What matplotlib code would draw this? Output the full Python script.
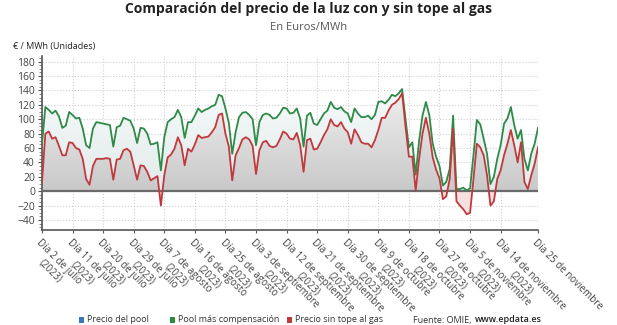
import numpy as np
import matplotlib
matplotlib.use('Agg')
import matplotlib.pyplot as plt
from matplotlib.colors import LinearSegmentedColormap
from matplotlib.patches import Rectangle

plt.rcParams['font.family'] = ['Open Sans', 'DejaVu Sans']

# daily values, 2 jul 2023 - 25 nov 2023 (EUR/MWh)
pool_comp = [65, 117, 113, 108, 112, 104, 88, 91, 110, 106, 101, 102, 87, 64, 60, 87, 96, 95, 94, 93,
             92, 62, 89, 91, 102, 100, 98, 87, 67, 88, 87, 80, 65, 66, 68, 29, 75, 96, 100, 103,
             113, 103, 74, 96, 96, 105, 115, 110, 113, 115, 118, 120, 134, 132, 115, 95, 52, 82, 103, 109,
             110, 106, 100, 64, 96, 106, 108, 106, 101, 102, 108, 116, 115, 108, 109, 115, 101, 62, 105, 109,
             94, 92, 100, 108, 112, 124, 116, 114, 117, 111, 108, 96, 115, 108, 103, 103, 105, 100, 106, 124,
             125, 122, 127, 134, 132, 136, 142, 100, 61, 68, 23, 70, 105, 124, 106, 66, 48, 35, 8, 13,
             31, 105, 3, 3, 5, 1, 4, 50, 99, 93, 73, 52, 10, 20, 45, 64, 94, 101, 117, 92,
             73, 85, 45, 29, 52, 66, 88]
sin_tope = [12, 80, 83, 73, 75, 63, 50, 50, 68, 67, 60, 58, 45, 17, 9, 35, 45, 45, 45, 46,
            45, 16, 44, 45, 57, 59, 55, 36, 16, 36, 35, 27, 15, 18, 21, -20, 22, 47, 51, 59,
            75, 64, 36, 59, 55, 65, 78, 74, 75, 76, 82, 89, 106, 108, 80, 62, 15, 50, 60, 72,
            75, 72, 63, 24, 57, 68, 70, 63, 61, 63, 72, 83, 80, 73, 72, 81, 64, 27, 71, 73,
            58, 59, 68, 78, 86, 100, 92, 90, 96, 87, 82, 66, 86, 78, 68, 66, 66, 61, 71, 85,
            102, 102, 112, 120, 123, 128, 136, 90, 48, 48, 1, 45, 80, 102, 80, 47, 30, 18, -11, -7,
            17, 87, -14, -20, -25, -32, -30, 17, 66, 61, 50, 22, -20, -14, 17, 29, 50, 66, 85, 64,
            40, 68, 13, 3, 22, 38, 61]

tick_pos = [0, 9, 18, 27, 36, 45, 54, 63, 72, 81, 90, 99, 108, 117, 126, 135, 146]
tick_labels = ['Día 2 de julio\n(2023)', 'Día 11 de julio\n(2023)', 'Día 20 de julio\n(2023)',
               'Día 29 de julio\n(2023)', 'Día 7 de agosto\n(2023)', 'Día 16 de agosto\n(2023)',
               'Día 25 de agosto\n(2023)', 'Día 3 de septiembre\n(2023)', 'Día 12 de septiembre\n(2023)',
               'Día 21 de septiembre\n(2023)', 'Día 30 de septiembre\n(2023)', 'Día 9 de octubre\n(2023)',
               'Día 18 de octubre\n(2023)', 'Día 27 de octubre\n(2023)', 'Día 5 de noviembre\n(2023)',
               'Día 14 de noviembre\n(2023)', 'Día 25 de noviembre']

G = np.array(pool_comp, dtype=float)
R = np.array(sin_tope, dtype=float)
x = np.arange(len(G))

fig = plt.figure(figsize=(6.17, 3.25), dpi=100)
ax = fig.add_axes([0.068, 0.292, 0.804, 0.536])

# gray gradient under the red line
poly = ax.fill_between(x, 0, np.clip(R, 0, None), facecolor='none', edgecolor='none')
cm_gray = LinearSegmentedColormap.from_list('g', ['#c9c9c9', '#f0f0f0'])
grad = np.linspace(0, 1, 256).reshape(-1, 1)
im = ax.imshow(grad, cmap=cm_gray, extent=[0, x[-1], 0, 145], aspect='auto', origin='lower', zorder=1)
im.set_clip_path(poly.get_paths()[0], transform=ax.transData)

# light tint between red and green
poly2 = ax.fill_between(x, R, G, facecolor='none', edgecolor='none')
cm_tint = LinearSegmentedColormap.from_list('t', ['#dde7e7', '#f6f9f9'])
im2 = ax.imshow(grad, cmap=cm_tint, extent=[0, x[-1], -40, 145], aspect='auto', origin='lower', zorder=1)
im2.set_clip_path(poly2.get_paths()[0], transform=ax.transData)

ax.fill_between(x, R, 0, where=R < 0, interpolate=True, facecolor='#f6dfdf', edgecolor='none', zorder=1.5)

ax.plot(x, G, color='#2e8a47', lw=1.3, zorder=4)
ax.plot(x, R, color='#c0393d', lw=1.3, zorder=4)
ax.axhline(0, color='#6a6a6a', lw=1.6, zorder=3)

ax.set_xlim(0, x[-1])
ax.set_ylim(-54, 188)
ax.set_yticks(np.arange(-40, 181, 20))
ax.set_yticks(np.arange(-50, 186, 5), minor=True)
ax.set_xticks(tick_pos)
ax.set_xticklabels(tick_labels, rotation=-45, rotation_mode='anchor', ha='left', va='top',
                   multialignment='center', fontsize=7, color='#444444')
ax.tick_params(axis='y', labelsize=7.5, labelcolor='#444444', color='#555555', length=3, pad=2)
ax.tick_params(axis='y', which='minor', length=2, color='#777777')
ax.tick_params(axis='x', length=2, color='#555555', pad=3)
ax.grid(True, which='major', color='#cfcfcf', ls=':', lw=0.8)
ax.set_axisbelow(True)
for s in ['top', 'right']:
    ax.spines[s].set_visible(False)
for s in ['left', 'bottom']:
    ax.spines[s].set_color('#555555')
    ax.spines[s].set_linewidth(1.2)

fig.text(0.5, 0.972, 'Comparación del precio de la luz con y sin tope al gas', ha='center', va='center',
         fontsize=10, fontweight='bold', color='#222222')
fig.text(0.5, 0.915, 'En Euros/MWh', ha='center', va='center', fontsize=8, color='#555555')
fig.text(0.021, 0.858, '€ / MWh (Unidades)', ha='left', va='center', fontsize=6.5, color='#222222')

# legend
ly = 1 - 320 / 325
items = [(79, '#3a78b5', 'Precio del pool'), (170, '#2f8a3e', 'Pool más compensación'),
         (287, '#c0393d', 'Precio sin tope al gas')]
for px, col, lab in items:
    fig.add_artist(Rectangle((px / 617, ly - 3 / 325), 5 / 617, 6 / 325, transform=fig.transFigure,
                             facecolor=col, edgecolor='none'))
    fig.text((px + 8) / 617, ly, lab, ha='left', va='center', fontsize=6.5, color='#333333')
src = fig.text(413 / 617, ly, 'Fuente: OMIE,', ha='left', va='center', fontsize=6.5, color='#333333')
renderer = fig.canvas.get_renderer()
bb = src.get_window_extent(renderer=renderer)
fig.text((bb.x1 + 3) / 617, ly, 'www.epdata.es', ha='left', va='center', fontsize=6.5, color='#222222',
         fontweight='semibold')

fig.savefig('out.png', dpi=100)
